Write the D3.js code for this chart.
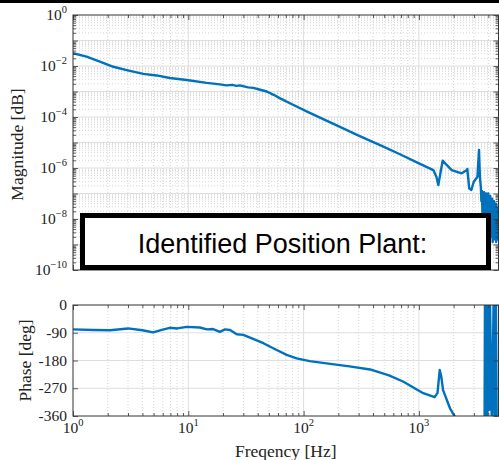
<!DOCTYPE html>
<html><head><meta charset="utf-8">
<script src="https://cdn.jsdelivr.net/npm/d3@7"></script>
<style>body{margin:0;background:#fff} svg{display:block}</style>
</head><body><svg id="c" width="499" height="460"></svg>
<script>
// ---------- data ----------
const magFreq = [1,1.31,1.71,2.24,2.92,4.07,5.3,6.9,9.7,14.4,18.8,21.4,24,26.2,28,33,36.6,42,47.9,55,62.6,81.7,109.5,200,300,460,700,1000,1334,1420,1473,1607,1740,1924,2349,2570,2630,2730,2850,2990,3220,3320,3380,3450,
  3480,3520,3560,3600,3640,3680,3720,3760,3800,3840,3880,3920,3960,4000,4040,4080,4120,4160,4200,4240,4280,4320,4360,4400,4440,4480,4520,4560,4600,4640,4680,4720,4760,4800,4840,4880,4900];
const magLog = [-1.50,-1.63,-1.83,-2.03,-2.16,-2.31,-2.37,-2.47,-2.55,-2.66,-2.72,-2.76,-2.74,-2.78,-2.76,-2.84,-2.86,-2.93,-3.00,-3.13,-3.27,-3.53,-3.81,-4.36,-4.73,-5.10,-5.48,-5.82,-6.08,-6.35,-6.67,-5.71,-5.88,-6.08,-6.21,-6.10,-6.04,-6.80,-6.86,-6.54,-6.34,-5.29,-6.34,-6.80,
  -7.3,-6.9,-7.9,-7.0,-8.3,-6.95,-8.6,-7.1,-8.1,-7.0,-8.8,-7.3,-8.4,-7.0,-8.9,-7.2,-8.5,-7.1,-8.7,-7.4,-8.3,-7.2,-8.9,-7.5,-8.6,-7.3,-8.8,-7.6,-8.4,-7.4,-8.9,-7.5,-8.7,-7.6,-8.8,-7.7,-8.2];
const phaseFreq = [1,1.5,2.1,3,4,4.95,6,6.9,8,9.7,12.6,14.5,16.4,18.8,20.8,23,26.3,30,34.3,44.8,58.4,71.3,87,113,170,250,377,550,735,1090,1370,1450,1515,1560,1620,1860,2050,2300,2800,3300,3700,
  3740,3790,3840,3920,4000,4080,4120,4300,4450,4560,4650,4760,4900];
const phaseDeg = [-79,-81,-82,-76,-82,-89,-80,-74,-76,-71,-73,-79,-78,-87,-79,-81,-95,-97,-106,-124,-146,-162,-173,-182,-191,-199,-209,-228,-249,-286,-299,-285,-211,-230,-276,-335,-362,-420,-480,-520,-540,
  40,-420,40,-420,50,-340,50,-420,40,-420,50,-560,-560];
const xTickValues = [1,10,100,1000];
const xTickExp = ["0","1","2","3"];
const magTickExp = [0,-2,-4,-6,-8,-10];
const phaseTicks = [0,-90,-180,-270,-360];
const phaseTickText = ["0","-90","-180","-270","-360"];
const boxLabel = "Identified Position Plant:";
const magLabel = "Magnitude [dB]";
const phaseLabel = "Phase [deg]";
const freqLabel = "Freqency [Hz]";

// ---------- layout ----------
const svg = d3.select("#c");
const L = 73, R = 498.5;
const mTop = 15, mBot = 270, pTop = 305, pBot = 416;
const blue = "#0072bd";
const serif = "'Liberation Serif','Times New Roman',serif";

const x = d3.scaleLog().domain([1, 4900]).range([L, R]);
const yM = d3.scaleLog().domain([1e-10, 1]).range([mBot, mTop]);
const yP = d3.scaleLinear().domain([-360, 0]).range([pBot, pTop]);

const minorX = [];
for (let d = 0; d < 4; d++) for (let k = 2; k <= 9; k++) { const v = k * Math.pow(10, d); if (v < 4900) minorX.push(v); }
const majorYM = d3.range(-10, 1).map(e => Math.pow(10, e));
const minorYM = [];
for (let e = -10; e < 0; e++) for (let k = 2; k <= 9; k++) minorYM.push(k * Math.pow(10, e));

// top black band
svg.append("rect").attr("x", 0).attr("y", 0).attr("width", 499).attr("height", 3).attr("fill", "#000");

function vgrid(g, vals, y0, y1, minor) {
  g.selectAll(null).data(vals).join("line")
    .attr("x1", d => x(d)).attr("x2", d => x(d)).attr("y1", y0).attr("y2", y1)
    .attr("stroke", minor ? "#c4c4c4" : "#dedede").attr("stroke-width", minor ? 0.7 : 1)
    .attr("stroke-dasharray", minor ? "1,2" : null);
}
function hgrid(g, vals, sc, minor) {
  g.selectAll(null).data(vals).join("line")
    .attr("x1", L).attr("x2", R).attr("y1", d => sc(d)).attr("y2", d => sc(d))
    .attr("stroke", minor ? "#c4c4c4" : "#dedede").attr("stroke-width", minor ? 0.7 : 1)
    .attr("stroke-dasharray", minor ? "1,2" : null);
}
function ticks(g, axisFn, sc, vals, size) {
  g.call(axisFn(sc).tickValues(vals).tickSize(size).tickFormat(""));
  g.select(".domain").remove();
  g.selectAll(".tick line").attr("stroke", "#333").attr("stroke-width", 0.8);
}

// ---------- magnitude plot ----------
const gm = svg.append("g");
vgrid(gm, minorX, mTop, mBot, true);
hgrid(gm, minorYM, yM, true);
vgrid(gm, xTickValues.slice(1), mTop, mBot, false);
hgrid(gm, majorYM.slice(1, -1), yM, false);

svg.append("clipPath").attr("id", "cm").append("rect").attr("x", L).attr("y", mTop).attr("width", R - L).attr("height", mBot - mTop);
svg.append("clipPath").attr("id", "cp").append("rect").attr("x", L).attr("y", pTop).attr("width", R - L).attr("height", pBot - pTop);

const magData = magFreq.map((f, i) => ({ f, v: Math.pow(10, magLog[i]) }));
svg.append("path").datum(magData).attr("clip-path", "url(#cm)")
  .attr("d", d3.line().x(d => x(d.f)).y(d => yM(d.v)))
  .attr("fill", "none").attr("stroke", blue).attr("stroke-width", 2.4).attr("stroke-linejoin", "round");

// ticks
ticks(svg.append("g").attr("transform", `translate(0,${mBot})`), d3.axisBottom, x, xTickValues, -5);
ticks(svg.append("g").attr("transform", `translate(0,${mBot})`), d3.axisBottom, x, minorX, -3);
ticks(svg.append("g").attr("transform", `translate(0,${mTop})`), d3.axisTop, x, xTickValues, -5);
ticks(svg.append("g").attr("transform", `translate(0,${mTop})`), d3.axisTop, x, minorX, -3);
ticks(svg.append("g").attr("transform", `translate(${L},0)`), d3.axisLeft, yM, majorYM, -5);
ticks(svg.append("g").attr("transform", `translate(${L},0)`), d3.axisLeft, yM, minorYM, -3);
ticks(svg.append("g").attr("transform", `translate(${R},0)`), d3.axisRight, yM, majorYM, -5);
ticks(svg.append("g").attr("transform", `translate(${R},0)`), d3.axisRight, yM, minorYM, -3);
svg.append("rect").attr("x", L).attr("y", mTop).attr("width", R - L).attr("height", mBot - mTop)
  .attr("fill", "none").attr("stroke", "#333").attr("stroke-width", 1);

// y labels magnitude
magTickExp.forEach(e => {
  const t = svg.append("text").attr("x", 67).attr("y", yM(Math.pow(10, e)) + 5)
    .attr("text-anchor", "end").attr("font-family", serif).attr("font-size", 15.5).attr("fill", "#222");
  t.append("tspan").text("10");
  t.append("tspan").attr("dy", -7).attr("font-size", 10.5).text(e === 0 ? "0" : "\u2212" + (-e));
});

// annotation box
svg.append("rect").attr("x", 82.5).attr("y", 215.5).attr("width", 406).attr("height", 52)
  .attr("fill", "#fff").attr("stroke", "#000").attr("stroke-width", 5);
svg.append("text").attr("x", 282.5).attr("y", 253).attr("text-anchor", "middle")
  .attr("font-family", "'Liberation Sans',Arial,sans-serif").attr("font-size", 27).attr("fill", "#000").text(boxLabel);

svg.append("text").attr("transform", `translate(17,${(mTop + mBot) / 2 + 2}) rotate(-90)`)
  .attr("text-anchor", "middle").attr("dominant-baseline", "central")
  .attr("font-family", serif).attr("font-size", 17.5).attr("fill", "#222").text(magLabel);

// ---------- phase plot ----------
const gp = svg.append("g");
vgrid(gp, minorX, pTop, pBot, true);
vgrid(gp, xTickValues.slice(1), pTop, pBot, false);
hgrid(gp, phaseTicks.slice(1, -1), yP, false);

const phData = phaseFreq.map((f, i) => ({ f, v: phaseDeg[i] }));
svg.append("path").datum(phData).attr("clip-path", "url(#cp)")
  .attr("d", d3.line().x(d => x(d.f)).y(d => yP(d.v)))
  .attr("fill", "none").attr("stroke", blue).attr("stroke-width", 2.4).attr("stroke-linejoin", "round");

ticks(svg.append("g").attr("transform", `translate(0,${pBot})`), d3.axisBottom, x, xTickValues, -5);
ticks(svg.append("g").attr("transform", `translate(0,${pBot})`), d3.axisBottom, x, minorX, -3);
ticks(svg.append("g").attr("transform", `translate(0,${pTop})`), d3.axisTop, x, xTickValues, -5);
ticks(svg.append("g").attr("transform", `translate(0,${pTop})`), d3.axisTop, x, minorX, -3);
ticks(svg.append("g").attr("transform", `translate(${L},0)`), d3.axisLeft, yP, phaseTicks, -5);
ticks(svg.append("g").attr("transform", `translate(${R},0)`), d3.axisRight, yP, phaseTicks, -5);
svg.append("rect").attr("x", L).attr("y", pTop).attr("width", R - L).attr("height", pBot - pTop)
  .attr("fill", "none").attr("stroke", "#333").attr("stroke-width", 1);

phaseTicks.forEach((v, i) => {
  svg.append("text").attr("x", 67).attr("y", yP(v) + 5).attr("text-anchor", "end")
    .attr("font-family", serif).attr("font-size", 15.5).attr("fill", "#222").text(phaseTickText[i]);
});
xTickValues.forEach((v, i) => {
  const t = svg.append("text").attr("x", x(v)).attr("y", 433).attr("text-anchor", "middle")
    .attr("font-family", serif).attr("font-size", 15.5).attr("fill", "#222");
  t.append("tspan").text("10");
  t.append("tspan").attr("dy", -7).attr("font-size", 10.5).text(xTickExp[i]);
});

svg.append("text").attr("transform", `translate(25,${(pTop + pBot) / 2}) rotate(-90)`)
  .attr("text-anchor", "middle").attr("dominant-baseline", "central")
  .attr("font-family", serif).attr("font-size", 17.5).attr("fill", "#222").text(phaseLabel);
svg.append("text").attr("x", (L + R) / 2).attr("y", 457).attr("text-anchor", "middle")
  .attr("font-family", serif).attr("font-size", 17.5).attr("fill", "#222").text(freqLabel);
</script>
</body></html>
